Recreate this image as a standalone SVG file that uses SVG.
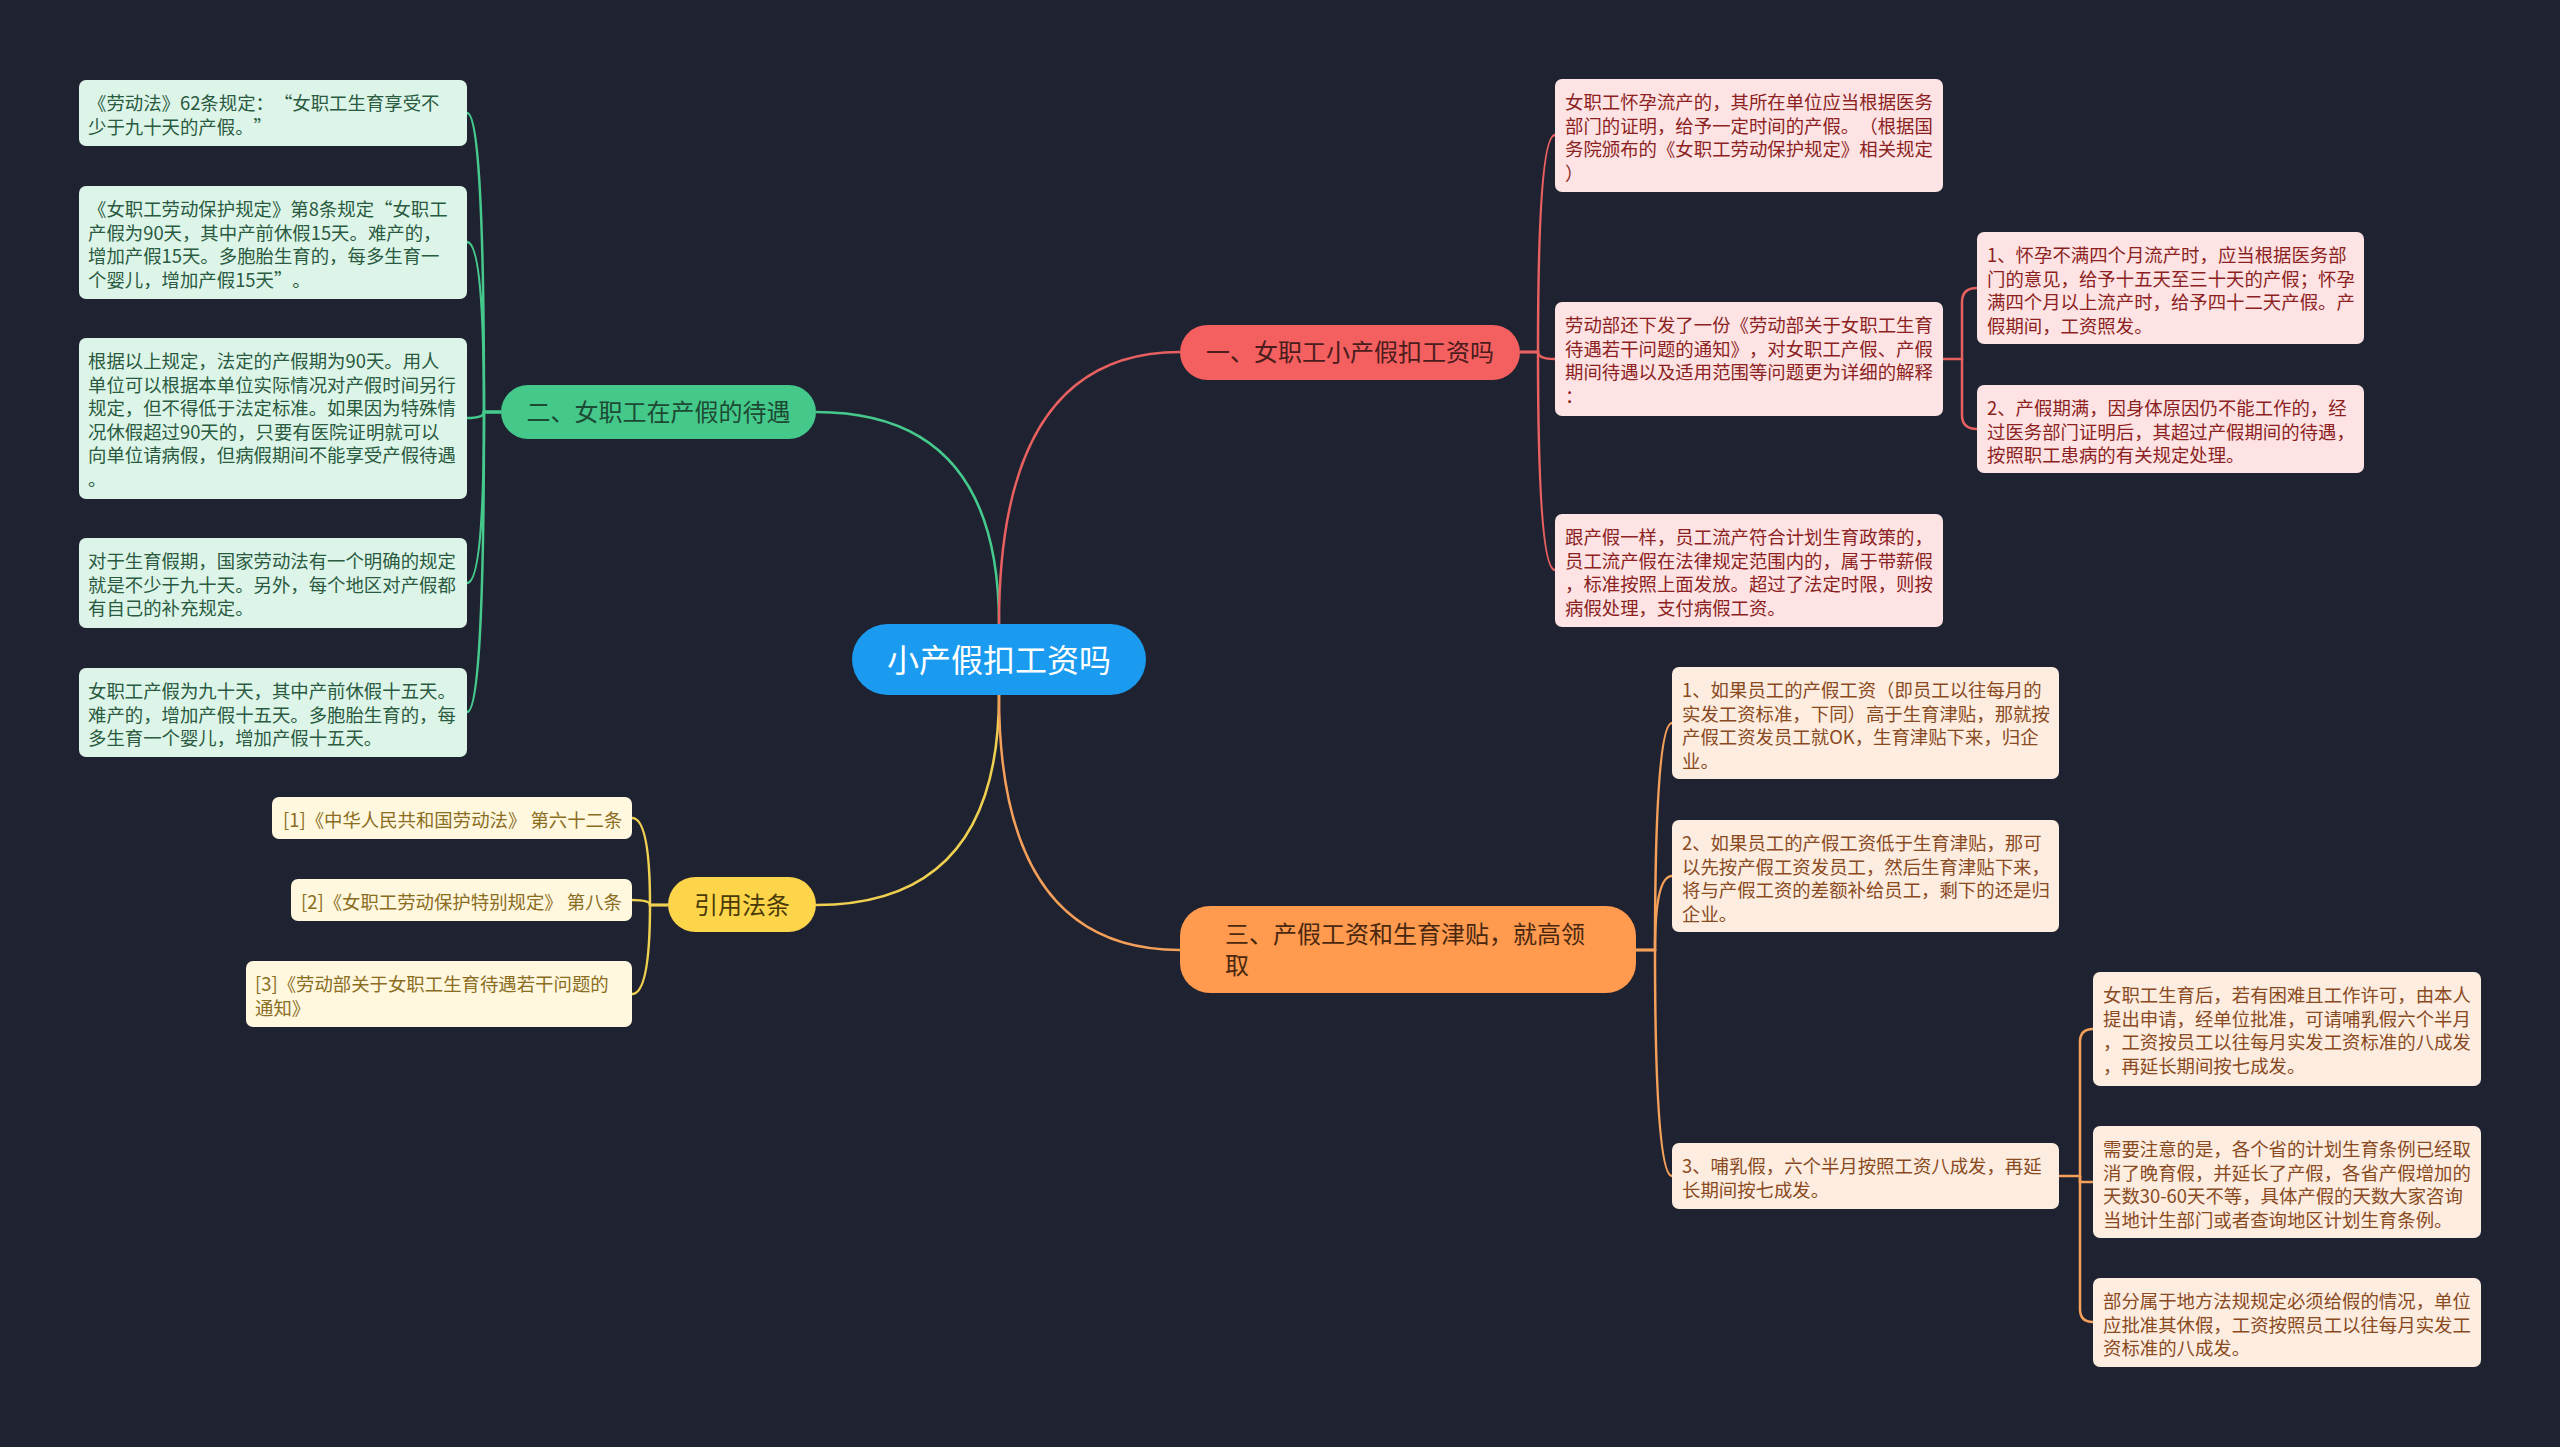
<svg xmlns="http://www.w3.org/2000/svg" width="2560" height="1447" viewBox="0 0 2560 1447" xml:lang="zh-CN">
<style>
text{font-family:"Noto Sans CJK SC","Noto Sans",sans-serif;text-spacing-trim:space-all;}
.lt{font-size:18.4px;}
.bt{font-size:24px;}
.g .box{fill:#ddf5e9;} .g text{fill:#2a5a40;}
.r .box{fill:#fde3e3;} .r text{fill:#8c1f1f;}
.o .box{fill:#fdede0;} .o text{fill:#8a4a1f;}
.y .box{fill:#fff8de;} .y text{fill:#8a6d1e;}
.cg{stroke:#46c98c;} .cr{stroke:#e86060;} .co{stroke:#f5a05a;} .cy{stroke:#f0d050;}
#connectors path{fill:none;stroke-width:2.5;}
</style>
<rect width="2560" height="1447" fill="#1f2230"/>
<g id="connectors">
<path class="cg" d="M999 624 Q999 412 816 412" stroke-width="3"/>
<path class="cr" d="M999 624 Q999 352 1180 352" stroke-width="3"/>
<path class="cy" d="M999 695 Q999 905 816 905" stroke-width="3"/>
<path class="co" d="M999 695 Q999 950 1180 950" stroke-width="3"/>
<path class="cg" d="M501 412 H484 Q484 113 467 113"/>
<path class="cg" d="M501 412 H484 Q484 242 467 242"/>
<path class="cg" d="M501 412 H484 Q484 418 467 418"/>
<path class="cg" d="M501 412 H484 Q484 583 467 583"/>
<path class="cg" d="M501 412 H484 Q484 712 467 712"/>
<path class="cr" d="M1520 352 H1538 Q1538 135 1555 135"/>
<path class="cr" d="M1520 352 H1538 Q1538 359 1555 359"/>
<path class="cr" d="M1520 352 H1538 Q1538 570 1555 570"/>
<path class="cr" d="M1943 359 H1962 V302 Q1962 288 1977 288"/>
<path class="cr" d="M1962 359 V415 Q1962 429 1977 429"/>
<path class="co" d="M1636 950 H1655 Q1655 723 1672 723"/>
<path class="co" d="M1636 950 H1655 Q1655 876 1672 876"/>
<path class="co" d="M1636 950 H1655 Q1655 1176 1672 1176"/>
<path class="co" d="M2059 1176 H2080 V1042 Q2080 1029 2093 1029"/>
<path class="co" d="M2080 1176 V1182 H2093"/>
<path class="co" d="M2080 1176 V1309 Q2080 1322 2093 1322"/>
<path class="cy" d="M668 905 H650 Q650 818 632 818"/>
<path class="cy" d="M668 905 H650 Q650 900 632 900"/>
<path class="cy" d="M668 905 H650 Q650 994 632 994"/>
</g>
<g id="center">
<rect x="852" y="624" width="294" height="71" rx="35.5" fill="#1a9bf0"/>
<text x="999" y="671.5" font-size="32" fill="#ffffff" text-anchor="middle">小产假扣工资吗</text>
</g>
<g id="branch1">
<rect x="1180" y="325" width="340" height="55" rx="27.5" fill="#f45f5f"/>
<text class="bt" x="1350" y="360.5" fill="#4a1c1c" text-anchor="middle">一、女职工小产假扣工资吗</text>
</g>
<g id="branch2">
<rect x="501" y="385" width="315" height="54" rx="27" fill="#44c98b"/>
<text class="bt" x="658.5" y="420.5" fill="#1d4a33" text-anchor="middle">二、女职工在产假的待遇</text>
</g>
<g id="branch3">
<rect x="1180" y="906" width="456" height="87" rx="30" fill="#ff9a4e"/>
<text class="bt" fill="#4a2810"><tspan x="1225" y="942.5">三、产假工资和生育津贴，就高领</tspan><tspan x="1225" y="973.5">取</tspan></text>
</g>
<g id="branch4">
<rect x="668" y="877" width="148" height="55" rx="27.5" fill="#fcd54a"/>
<text class="bt" x="742" y="913.5" fill="#4a3a08" text-anchor="middle">引用法条</text>
</g>
<g id="L1" class="g"><rect class="box" x="79" y="80" width="388" height="66" rx="7"/>
<text class="lt"><tspan x="88" y="110">《劳动法》62条规定：“女职工生育享受不</tspan><tspan x="88" y="133.5">少于九十天的产假。”</tspan></text></g>
<g id="L2" class="g"><rect class="box" x="79" y="186" width="388" height="113" rx="7"/>
<text class="lt"><tspan x="88" y="216">《女职工劳动保护规定》第8条规定“女职工</tspan><tspan x="88" y="239.5">产假为90天，其中产前休假15天。难产的，</tspan><tspan x="88" y="263">增加产假15天。多胞胎生育的，每多生育一</tspan><tspan x="88" y="286.5">个婴儿，增加产假15天”。</tspan></text></g>
<g id="L3" class="g"><rect class="box" x="79" y="338" width="388" height="161" rx="7"/>
<text class="lt"><tspan x="88" y="368">根据以上规定，法定的产假期为90天。用人</tspan><tspan x="88" y="391.5">单位可以根据本单位实际情况对产假时间另行</tspan><tspan x="88" y="415">规定，但不得低于法定标准。如果因为特殊情</tspan><tspan x="88" y="438.5">况休假超过90天的，只要有医院证明就可以</tspan><tspan x="88" y="462">向单位请病假，但病假期间不能享受产假待遇</tspan><tspan x="88" y="485.5">。</tspan></text></g>
<g id="L4" class="g"><rect class="box" x="79" y="538" width="388" height="90" rx="7"/>
<text class="lt"><tspan x="88" y="568">对于生育假期，国家劳动法有一个明确的规定</tspan><tspan x="88" y="591.5">就是不少于九十天。另外，每个地区对产假都</tspan><tspan x="88" y="615">有自己的补充规定。</tspan></text></g>
<g id="L5" class="g"><rect class="box" x="79" y="668" width="388" height="89" rx="7"/>
<text class="lt"><tspan x="88" y="698">女职工产假为九十天，其中产前休假十五天。</tspan><tspan x="88" y="721.5">难产的，增加产假十五天。多胞胎生育的，每</tspan><tspan x="88" y="745">多生育一个婴儿，增加产假十五天。</tspan></text></g>
<g id="R1" class="r"><rect class="box" x="1555" y="79" width="388" height="113" rx="7"/>
<text class="lt"><tspan x="1565" y="109">女职工怀孕流产的，其所在单位应当根据医务</tspan><tspan x="1565" y="132.5">部门的证明，给予一定时间的产假。（根据国</tspan><tspan x="1565" y="156">务院颁布的《女职工劳动保护规定》相关规定</tspan><tspan x="1565" y="179.5">）</tspan></text></g>
<g id="R2" class="r"><rect class="box" x="1555" y="302" width="388" height="114" rx="7"/>
<text class="lt"><tspan x="1565" y="332">劳动部还下发了一份《劳动部关于女职工生育</tspan><tspan x="1565" y="355.5">待遇若干问题的通知》，对女职工产假、产假</tspan><tspan x="1565" y="379">期间待遇以及适用范围等问题更为详细的解释</tspan><tspan x="1565" y="402.5">：</tspan></text></g>
<g id="R3" class="r"><rect class="box" x="1555" y="514" width="388" height="113" rx="7"/>
<text class="lt"><tspan x="1565" y="544">跟产假一样，员工流产符合计划生育政策的，</tspan><tspan x="1565" y="567.5">员工流产假在法律规定范围内的，属于带薪假</tspan><tspan x="1565" y="591">，标准按照上面发放。超过了法定时限，则按</tspan><tspan x="1565" y="614.5">病假处理，支付病假工资。</tspan></text></g>
<g id="R2a" class="r"><rect class="box" x="1977" y="232" width="387" height="112" rx="7"/>
<text class="lt"><tspan x="1987" y="262">1、怀孕不满四个月流产时，应当根据医务部</tspan><tspan x="1987" y="285.5">门的意见，给予十五天至三十天的产假；怀孕</tspan><tspan x="1987" y="309">满四个月以上流产时，给予四十二天产假。产</tspan><tspan x="1987" y="332.5">假期间，工资照发。</tspan></text></g>
<g id="R2b" class="r"><rect class="box" x="1977" y="385" width="387" height="88" rx="7"/>
<text class="lt"><tspan x="1987" y="415">2、产假期满，因身体原因仍不能工作的，经</tspan><tspan x="1987" y="438.5">过医务部门证明后，其超过产假期间的待遇，</tspan><tspan x="1987" y="462">按照职工患病的有关规定处理。</tspan></text></g>
<g id="O1" class="o"><rect class="box" x="1672" y="667" width="387" height="112" rx="7"/>
<text class="lt"><tspan x="1682" y="697">1、如果员工的产假工资（即员工以往每月的</tspan><tspan x="1682" y="720.5">实发工资标准，下同）高于生育津贴，那就按</tspan><tspan x="1682" y="744">产假工资发员工就OK，生育津贴下来，归企</tspan><tspan x="1682" y="767.5">业。</tspan></text></g>
<g id="O2" class="o"><rect class="box" x="1672" y="820" width="387" height="112" rx="7"/>
<text class="lt"><tspan x="1682" y="850">2、如果员工的产假工资低于生育津贴，那可</tspan><tspan x="1682" y="873.5">以先按产假工资发员工，然后生育津贴下来，</tspan><tspan x="1682" y="897">将与产假工资的差额补给员工，剩下的还是归</tspan><tspan x="1682" y="920.5">企业。</tspan></text></g>
<g id="O3" class="o"><rect class="box" x="1672" y="1143" width="387" height="66" rx="7"/>
<text class="lt"><tspan x="1682" y="1173">3、哺乳假，六个半月按照工资八成发，再延</tspan><tspan x="1682" y="1196.5">长期间按七成发。</tspan></text></g>
<g id="O3a" class="o"><rect class="box" x="2093" y="972" width="388" height="114" rx="7"/>
<text class="lt"><tspan x="2103" y="1002">女职工生育后，若有困难且工作许可，由本人</tspan><tspan x="2103" y="1025.5">提出申请，经单位批准，可请哺乳假六个半月</tspan><tspan x="2103" y="1049">，工资按员工以往每月实发工资标准的八成发</tspan><tspan x="2103" y="1072.5">，再延长期间按七成发。</tspan></text></g>
<g id="O3b" class="o"><rect class="box" x="2093" y="1126" width="388" height="112" rx="7"/>
<text class="lt"><tspan x="2103" y="1156">需要注意的是，各个省的计划生育条例已经取</tspan><tspan x="2103" y="1179.5">消了晚育假，并延长了产假，各省产假增加的</tspan><tspan x="2103" y="1203">天数30-60天不等，具体产假的天数大家咨询</tspan><tspan x="2103" y="1226.5">当地计生部门或者查询地区计划生育条例。</tspan></text></g>
<g id="O3c" class="o"><rect class="box" x="2093" y="1278" width="388" height="89" rx="7"/>
<text class="lt"><tspan x="2103" y="1308">部分属于地方法规规定必须给假的情况，单位</tspan><tspan x="2103" y="1331.5">应批准其休假，工资按照员工以往每月实发工</tspan><tspan x="2103" y="1355">资标准的八成发。</tspan></text></g>
<g id="C1" class="y"><rect class="box" x="272" y="797" width="360" height="42" rx="7"/>
<text class="lt" x="283" y="827">[1]《中华人民共和国劳动法》 第六十二条</text></g>
<g id="C2" class="y"><rect class="box" x="291" y="879" width="341" height="42" rx="7"/>
<text class="lt" x="301" y="909">[2]《女职工劳动保护特别规定》 第八条</text></g>
<g id="C3" class="y"><rect class="box" x="246" y="961" width="386" height="66" rx="7"/>
<text class="lt"><tspan x="255" y="991">[3]《劳动部关于女职工生育待遇若干问题的</tspan><tspan x="255" y="1014.5">通知》</tspan></text></g>
</svg>
